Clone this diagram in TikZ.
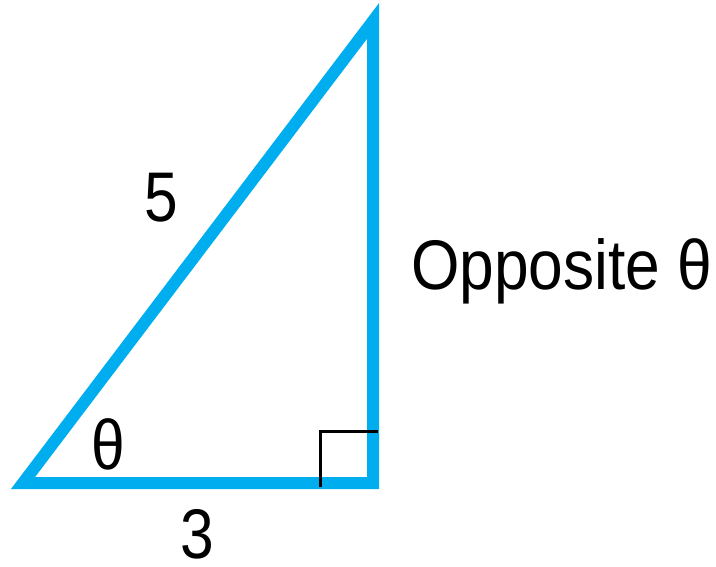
\documentclass[tikz,border=0pt]{standalone}
\usepackage{fontspec}
\setmainfont{Liberation Sans}
\usetikzlibrary{positioning}
\definecolor{trcyan}{HTML}{00AEEF}

\begin{document}
\begin{tikzpicture}[
  x=0.02cm, y=-0.02cm,
  side/.style={draw=trcyan, line width=0.24cm, line join=miter},
  rightmark/.style={draw=black, line width=0.06cm},
  lbl/.style={font=\fontsize{40}{48}\selectfont, xscale=0.86, inner sep=0pt},
]
\useasboundingbox (0,0) rectangle (716,567);

% triangle corners
\coordinate (A) at (23,483);
\coordinate (C) at (373,483);
\coordinate (B) at (373,21);

\draw[side] (A) -- (C) -- (B) -- cycle;

% right angle mark
\coordinate (m1) at (320,487);
\coordinate (m2) at (320,431);
\coordinate (m3) at (378,431);
\draw[rightmark] (m1) -- (m2) -- (m3);

% labels
\node[lbl] (hyp) at (161,198) {5};
\node[lbl] (adj) at (197,534) {3};
\node[lbl] (ang) at (108,444) {θ};
\node[lbl, anchor=base west, xscale=1.03] (opp) at (411,290) {Opposite θ};

\end{tikzpicture}
\end{document}
